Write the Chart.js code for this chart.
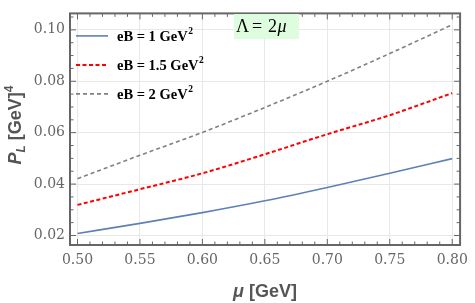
<!DOCTYPE html>
<html>
<head>
<meta charset="utf-8">
<script src="https://cdn.jsdelivr.net/npm/chart.js@4.4.1/dist/chart.umd.min.js"></script>
<style>
  html, body { margin: 0; padding: 0; background: #fff; }
  #wrap { width: 475px; height: 303px; }
</style>
</head>
<body>
<div id="wrap"><canvas id="c"></canvas></div>
<script>
// --- data ---
const muValues = [0.50, 0.55, 0.60, 0.65, 0.70, 0.75, 0.80];
const pEB1  = [0.0208, 0.0247, 0.0289, 0.0335, 0.0387, 0.0442, 0.0499];
const pEB15 = [0.0319, 0.0380, 0.0442, 0.0516, 0.0594, 0.0668, 0.0754];
const pEB2  = [0.0421, 0.0512, 0.0601, 0.0698, 0.0800, 0.0908, 0.1020];
const xTicks = [0.50, 0.55, 0.60, 0.65, 0.70, 0.75, 0.80];
const yTicks = [0.02, 0.04, 0.06, 0.08, 0.10];
const seriesLabels = ['eB = 1 GeV', 'eB = 1.5 GeV', 'eB = 2 GeV'];

const pts = ys => muValues.map((x, i) => ({ x, y: ys[i] }));
const grey = '#666';

// frame, inward major/minor ticks on all four sides
const framePlugin = {
  id: 'frame',
  afterDatasetsDraw(chart) {
    const { ctx, chartArea: a, scales: { x, y } } = chart;
    ctx.save();
    ctx.strokeStyle = grey;
    ctx.lineWidth = 1;
    for (let i = 0; i <= 32; i++) {
      const v = 0.49 + i * 0.01;
      const px = x.getPixelForValue(v);
      if (px < a.left || px > a.right) continue;
      const major = (i - 1) % 5 === 0;
      const len = major ? 6 : 3.5;
      ctx.beginPath();
      ctx.moveTo(px, a.bottom); ctx.lineTo(px, a.bottom - len);
      ctx.moveTo(px, a.top); ctx.lineTo(px, a.top + len);
      ctx.stroke();
    }
    for (let i = 0; i <= 20; i++) {
      const v = 0.015 + i * 0.005;
      const py = y.getPixelForValue(v);
      if (py < a.top || py > a.bottom) continue;
      const major = i % 4 === 1;
      const len = major ? 6 : 3.5;
      ctx.beginPath();
      ctx.moveTo(a.left, py); ctx.lineTo(a.left + len, py);
      ctx.moveTo(a.right, py); ctx.lineTo(a.right - len, py);
      ctx.stroke();
    }
    ctx.lineWidth = 2;
    ctx.strokeRect(a.left, a.top, a.right - a.left, a.bottom - a.top);
    ctx.restore();
  }
};

function runsWidth(ctx, runs) {
  let w = 0;
  runs.forEach(r => { ctx.font = r.font; w += ctx.measureText(r.t).width; });
  return w;
}

const annotPlugin = {
  id: 'annot',
  afterDraw(chart) {
    const { ctx, chartArea: a } = chart;
    ctx.save();
    // legend inside plot
    chart.data.datasets.forEach((d, i) => {
      const yy = a.top + 22.5 + i * 29;
      ctx.strokeStyle = d.borderColor;
      ctx.lineWidth = d.borderWidth;
      ctx.setLineDash(d.borderDash || []);
      ctx.beginPath();
      ctx.moveTo(a.left + 6, yy); ctx.lineTo(a.left + 38, yy);
      ctx.stroke();
      ctx.setLineDash([]);
      ctx.fillStyle = '#000';
      ctx.textBaseline = 'alphabetic';
      ctx.font = 'bold 14.5px "Liberation Serif"';
      ctx.fillText(d.label, a.left + 47, yy + 5);
      const w = ctx.measureText(d.label).width;
      ctx.font = 'bold 9.5px "Liberation Serif"';
      ctx.fillText('2', a.left + 47 + w + 0.5, yy - 1.5);
    });

    // Λ = 2μ box
    ctx.fillStyle = 'rgb(222,252,222)';
    ctx.fillRect(234, 14, 65, 25);
    ctx.fillStyle = '#000';
    ctx.font = '18px "Liberation Serif"';
    ctx.fillText('\u039B', 236, 32);
    ctx.fillText('=', 252, 32);
    ctx.fillText('2', 268, 32);
    ctx.font = 'italic 18px "Liberation Serif"';
    ctx.fillText('\u03BC', 277.5, 32);

    // x title
    ctx.fillStyle = '#555';
    const xr = [
      { t: '\u03BC', font: 'italic bold 18px "Liberation Sans"' },
      { t: ' [GeV]', font: 'bold 18px "Liberation Sans"' }
    ];
    let cx = (a.left + a.right) / 2 - runsWidth(ctx, xr) / 2;
    xr.forEach(r => { ctx.font = r.font; ctx.fillText(r.t, cx, 297); cx += ctx.measureText(r.t).width; });

    // y title, rotated
    const yr = [
      { t: 'P', font: 'italic bold 18px "Liberation Sans"', dy: 0 },
      { t: 'L', font: 'italic bold 12px "Liberation Sans"', dy: 4 },
      { t: ' [GeV]', font: 'bold 18px "Liberation Sans"', dy: 0 },
      { t: '4', font: 'bold 12px "Liberation Sans"', dy: -8 }
    ];
    const yw = runsWidth(ctx, yr);
    ctx.translate(21, 125);
    ctx.rotate(-Math.PI / 2);
    let cy = -yw / 2;
    yr.forEach(r => { ctx.font = r.font; ctx.fillText(r.t, cy, r.dy); cy += ctx.measureText(r.t).width; });
    ctx.restore();
  }
};

new Chart(document.getElementById('c'), {
  type: 'scatter',
  data: {
    datasets: [
      { label: seriesLabels[0], data: pts(pEB1), borderColor: '#5E81B5', borderWidth: 1.6, showLine: true, pointRadius: 0, cubicInterpolationMode: 'monotone' },
      { label: seriesLabels[1], data: pts(pEB15), borderColor: '#FF0000', borderWidth: 2, borderDash: [4, 2.5], showLine: true, pointRadius: 0, cubicInterpolationMode: 'monotone' },
      { label: seriesLabels[2], data: pts(pEB2), borderColor: '#808080', borderWidth: 1.6, borderDash: [4, 3], showLine: true, pointRadius: 0, cubicInterpolationMode: 'monotone' }
    ]
  },
  options: {
    responsive: true, maintainAspectRatio: false, animation: false,
    layout: { padding: { top: 1, right: 10, left: 0, bottom: 0 } },
    plugins: { legend: { display: false }, tooltip: { enabled: false } },
    scales: {
      x: {
        type: 'linear', min: 0.494, max: 0.8063,
        afterBuildTicks: s => { s.ticks = xTicks.map(v => ({ value: v })); },
        afterFit: s => { s.height = 58; },
        ticks: { color: grey, font: { family: 'DejaVu Serif', size: 14 }, padding: 7, callback: v => v.toFixed(2), maxRotation: 0 },
        grid: { color: '#e8e8e8', drawTicks: false },
        border: { display: false }
      },
      y: {
        min: 0.0163, max: 0.1064,
        afterBuildTicks: s => { s.ticks = yTicks.map(v => ({ value: v })); },
        afterFit: s => { s.width = 70; },
        ticks: { color: grey, font: { family: 'DejaVu Serif', size: 14 }, padding: 5, callback: v => v.toFixed(2) },
        grid: { color: '#e8e8e8', drawTicks: false },
        border: { display: false }
      }
    }
  },
  plugins: [framePlugin, annotPlugin]
});
</script>
</body>
</html>
